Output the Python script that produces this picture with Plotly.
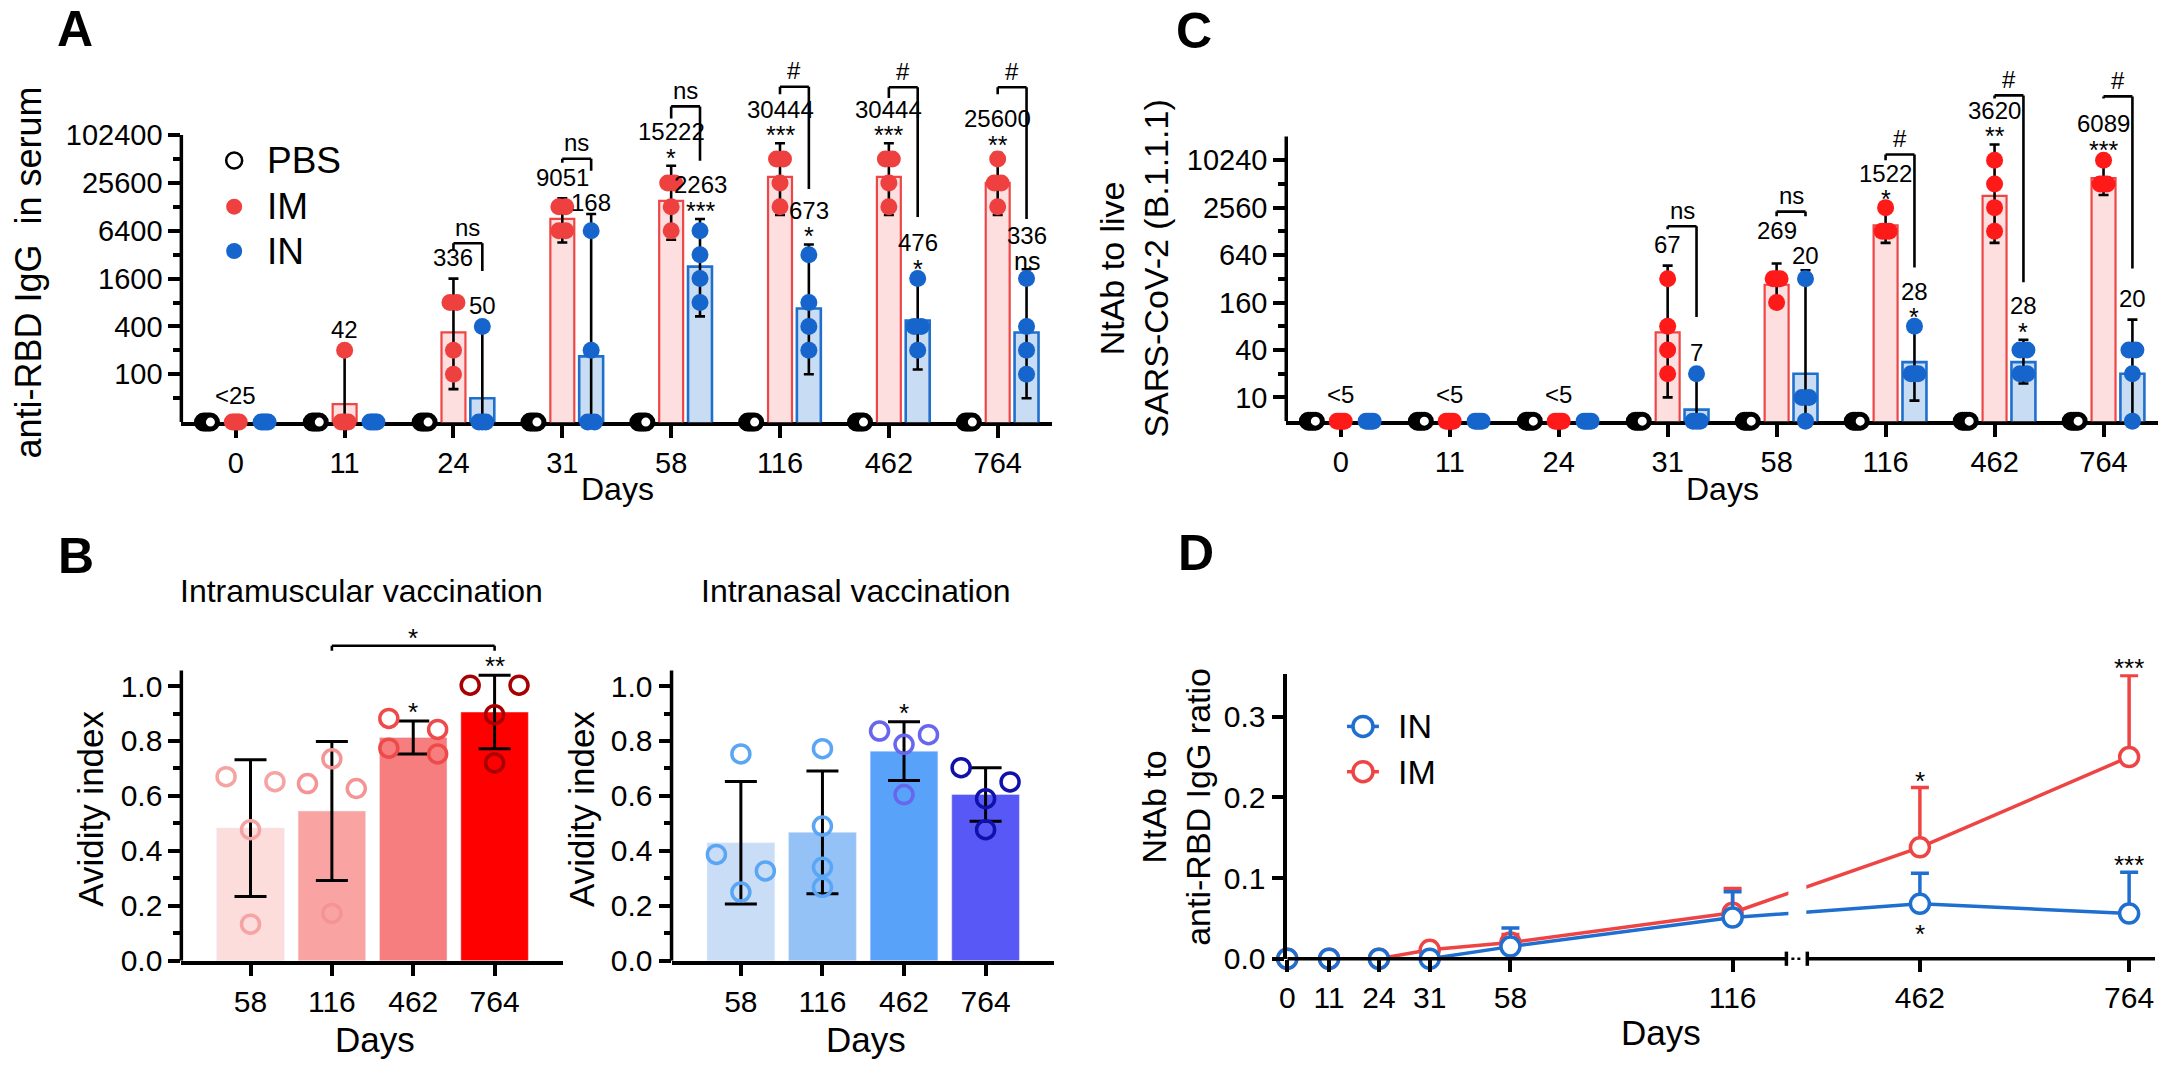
import numpy as np
import plotly.graph_objects as go

W, H = 2163, 1084
FONT = "Liberation Sans, Arial, sans-serif"
RED = "#EF4444"
BLUE = "#1E6FD0"

# ---------------- data ----------------
days = ["0", "11", "24", "31", "58", "116", "462", "764"]

# A: anti-RBD IgG titres, 4 mice per group (25 = detection limit)
a_pbs = [[25, 25, 25, 25] for _ in days]
a_im = [[25, 25, 25, 25], [200, 25, 25, 25], [800, 800, 200, 100], [12800, 12800, 6400, 6400],
        [25600, 25600, 12800, 6400], [51200, 51200, 25600, 12800], [51200, 51200, 25600, 12800],
        [51200, 25600, 25600, 12800]]
a_in = [[25, 25, 25, 25], [25, 25, 25, 25], [400, 25, 25, 25], [6400, 200, 25, 25],
        [6400, 3200, 1600, 800], [3200, 800, 400, 200], [1600, 400, 400, 200], [1600, 400, 200, 100]]
a_im_gmt = [None, 42, 336, 9051, 15222, 30444, 30444, 25600]
a_in_gmt = [None, None, 50, 168, 2263, 673, 476, 336]
a_im_lo = [None, 1, 65, 4550, 4930, 10100, 10100, 10100]
a_im_hi = [None, 200, 1600, 16400, 42100, 81000, 81000, 61000]
a_in_lo = [None, None, 1, 1, 536, 100, 115, 50]
a_in_hi = [None, None, 400, 10400, 9000, 4300, 1700, 2100]
a_im_text = ["<25", "42", "336", "9051", "15222", "30444", "30444", "25600"]
a_im_sig = ["", "", "", "", "*", "***", "***", "**"]
a_in_text = ["", "", "50", "168", "2263", "673", "476", "336"]
a_in_sig = ["", "", "", "", "***", "*", "*", "ns"]
a_cmp = [None, None, "ns", "ns", "ns", "#", "#", "#"]
# IM vs IN brackets: top, left end, right end
a_cmp_top = [None, None, 4450, 51500, 235000, 415000, 410000, 410000]
a_cmp_left = [None, None, 3730, 46000, 166000, 335000, 300000, 335000]
a_cmp_right = [None, None, 1990, 36500, 48600, 21400, 9550, 9000]

# C: NtAb titres to live SARS-CoV-2 (5 = detection limit)
c_pbs = [[5, 5, 5, 5] for _ in days]
c_im = [[5, 5, 5, 5], [5, 5, 5, 5], [5, 5, 5, 5], [320, 80, 40, 20], [320, 320, 320, 160],
        [2560, 1280, 1280, 1280], [10240, 5120, 2560, 1280], [10240, 5120, 5120, 5120]]
c_in = [[5, 5, 5, 5], [5, 5, 5, 5], [5, 5, 5, 5], [20, 5, 5, 5], [320, 10, 10, 5],
        [80, 20, 20, 20], [40, 40, 20, 20], [40, 40, 20, 5]]
c_im_gmt = [None, None, None, 67, 269, 1522, 3620, 6089]
c_in_gmt = [None, None, None, 7, 20, 28, 28, 20]
c_im_lo = [None, None, None, 10, 170, 915, 915, 3700]
c_im_hi = [None, None, None, 470, 500, 2600, 16200, 11000]
c_in_lo = [None, None, None, 1, 1, 9.1, 15, 1]
c_in_hi = [None, None, None, 20, 410, 82, 54, 97]
c_im_text = ["<5", "<5", "<5", "67", "269", "1522", "3620", "6089"]
c_im_sig = ["", "", "", "", "", "*", "**", "***"]
c_in_text = ["", "", "", "7", "20", "28", "28", "20"]
c_in_sig = ["", "", "", "", "", "*", "*", ""]
c_cmp = [None, None, None, "ns", "ns", "#", "#", "#"]
c_cmp_top = [None, None, None, 1485, 2280, 12100, 68000, 66000]
c_cmp_left = [None, None, None, 1360, 1990, 10250, 62000, 62000]
c_cmp_right = [None, None, None, 105, 1990, 445, 290, 433]

# B: avidity index
b_days = ["58", "116", "462", "764"]
b_im = [[0.652, 0.670, 0.477, 0.133], [0.645, 0.735, 0.627, 0.172],
        [0.842, 0.882, 0.753, 0.774], [1.003, 1.003, 0.896, 0.720]]
b_in = [[0.753, 0.387, 0.327, 0.250], [0.772, 0.490, 0.340, 0.267],
        [0.836, 0.823, 0.788, 0.605], [0.651, 0.703, 0.590, 0.477]]
b_im_sig = ["", "", "*", "**"]
b_in_sig = ["", "", "*", ""]

# D: NtAb / anti-RBD IgG ratio (mean, upper SD)
d_im = [0, 0, 0, 0.011, 0.020, 0.057, 0.138, 0.250]
d_im_sd = [0, 0, 0, 0, 0.010, 0.030, 0.074, 0.101]
d_in = [0, 0, 0, 0, 0.015, 0.051, 0.068, 0.056]
d_in_sd = [0, 0, 0, 0, 0.023, 0.032, 0.038, 0.051]
d_im_sig = ["", "", "", "", "", "", "*", "***"]
d_in_sig = ["", "", "", "", "", "", "*", "***"]

# segmented x scale used in panel D (axis units for each day, break between 501 and 522)
d_scale = [0, 42, 92, 143, 224, 447, 635, 845]

# label nudges (px) where the figure moves a value label off its usual place
label_shift = {("x", 3, "in"): 12, ("x2", 4, "im"): 33, ("x2", 4, "in"): 15}


# ---------------- helpers ----------------
def pxx(x):
    return x / W


def pyy(y):
    return 1 - y / H


OFF = 0.265  # spacing of PBS / IM / IN inside a day group

fig = go.Figure()


def text(t, x, y, xref, yref, size=24, yshift=0, xanchor="center", angle=0, bold=False):
    fig.add_annotation(text=("<b>%s</b>" % t) if bold else t, x=x, y=y, xref=xref, yref=yref,
                       showarrow=False, yshift=yshift, xanchor=xanchor, yanchor="middle",
                       textangle=angle, font=dict(family=FONT, size=size, color="black"))


def line(x0, y0, x1, y1, xref, yref, color="black", width=2.6, dash=None):
    fig.add_shape(type="line", x0=x0, y0=y0, x1=x1, y1=y1, xref=xref, yref=yref,
                  line=dict(color=color, width=width, dash=dash))


def dup_offsets(vals, span=0.064):
    # identical values are put side by side
    out = []
    for k, v in enumerate(vals):
        idx = [j for j, w in enumerate(vals) if w == v]
        n = len(idx)
        out.append(0.0 if n == 1 else -span / 2 + span * idx.index(k) / (n - 1))
    return out


def swarm(vals, gap=0.065, step=0.3):
    order = list(np.argsort(vals)[::-1])
    groups = []
    for idx in order:
        if groups and vals[groups[-1][-1]] - vals[idx] < gap:
            groups[-1].append(idx)
        else:
            groups.append([idx])
    offs = [0.0] * len(vals)
    patterns = {1: [0], 2: [-step, step], 3: [-step, step, 0], 4: [-step, step, -step, step]}
    for g in groups:
        for k, idx in enumerate(g):
            offs[idx] = patterns[len(g)][k]
    return offs


def titre_panel(xa, ya, pbs, im, inn, im_gmt, in_gmt, im_lo, im_hi, in_lo, in_hi, im_col):
    x = list(range(len(days)))
    fig.add_trace(go.Bar(x=x, y=im_gmt, width=0.22, xaxis=xa, yaxis=ya,
                         marker=dict(color="#FDDFDF", line=dict(color="#EE4646", width=2.2))))
    fig.add_trace(go.Bar(x=[i + OFF for i in x], y=in_gmt, width=0.22, xaxis=xa, yaxis=ya,
                         marker=dict(color="#C8DCF4", line=dict(color="#1F6FCC", width=2.6))))
    for shift, gmt, lo, hi in ((0, im_gmt, im_lo, im_hi), (OFF, in_gmt, in_lo, in_hi)):
        keep = [i for i in x if gmt[i] is not None]
        fig.add_trace(go.Scatter(
            x=[i + shift for i in keep], y=[gmt[i] for i in keep], mode="markers",
            marker=dict(size=1, color="rgba(0,0,0,0)"), xaxis=xa, yaxis=ya,
            error_y=dict(type="data", symmetric=False, array=[hi[i] - gmt[i] for i in keep],
                         arrayminus=[gmt[i] - lo[i] for i in keep], color="black",
                         thickness=2.6, width=5)))
    styles = ((-OFF, pbs, dict(color="white", size=14, line=dict(color="black", width=5))),
              (0, im, dict(color=im_col, size=17)),
              (OFF, inn, dict(color="#1565CC", size=17)))
    for shift, pts, style in styles:
        xs, ys = [], []
        for i, vals in enumerate(pts):
            for o, v in zip(dup_offsets(vals), vals):
                xs.append(i + shift + o)
                ys.append(v)
        fig.add_trace(go.Scatter(x=xs, y=ys, mode="markers", marker=style, cliponaxis=False,
                                 xaxis=xa, yaxis=ya))


def titre_labels(xa, ya, floor, im_hi, in_hi, im_text, im_sig, in_text, in_sig,
                 cmp, cmp_top, cmp_left, cmp_right):
    for i in range(len(days)):
        for grp, shift, hi, txt, sig in (("im", 0, im_hi, im_text, im_sig),
                                         ("in", OFF, in_hi, in_text, in_sig)):
            if not txt[i]:
                continue
            top = np.log10(hi[i] if hi[i] else floor)
            if sig[i]:
                text(sig[i], i + shift, top, xa, ya, size=25, yshift=8)
                text(txt[i], i + shift, top, xa, ya, size=24, yshift=34)
            else:
                dy = label_shift.get((xa, i, grp), 21 if hi[i] else 27)
                text(txt[i], i + shift, top, xa, ya, size=24, yshift=dy)
        if cmp[i]:
            line(i, cmp_left[i], i, cmp_top[i], xa, ya)
            line(i, cmp_top[i], i + OFF, cmp_top[i], xa, ya)
            line(i + OFF, cmp_top[i], i + OFF, cmp_right[i], xa, ya)
            text(cmp[i], i + OFF / 2, np.log10(cmp_top[i]), xa, ya, size=24, yshift=16)


# ---------------- panel A and C ----------------
titre_panel("x", "y", a_pbs, a_im, a_in, a_im_gmt, a_in_gmt, a_im_lo, a_im_hi,
            a_in_lo, a_in_hi, "#EF4040")
titre_labels("x", "y", 25, a_im_hi, a_in_hi, a_im_text, a_im_sig, a_in_text, a_in_sig,
             a_cmp, a_cmp_top, a_cmp_left, a_cmp_right)
titre_panel("x2", "y2", c_pbs, c_im, c_in, c_im_gmt, c_in_gmt, c_im_lo, c_im_hi,
            c_in_lo, c_in_hi, "#FF1A1A")
titre_labels("x2", "y2", 5, c_im_hi, c_in_hi, c_im_text, c_im_sig, c_in_text, c_in_sig,
             c_cmp, c_cmp_top, c_cmp_left, c_cmp_right)

# ---------------- panel B ----------------
im_bar = ["#FDDCDC", "#F9A3A3", "#F77E7E", "#FF0000"]
im_pt = ["#F5A3A3", "#F59494", "#EE4A4A", "#A80000"]
in_bar = ["#C9DDF6", "#94C1F6", "#58A2F9", "#5858F6"]
in_pt = ["#5AA6F4", "#5AA6F4", "#6666EE", "#1010AA"]

for xa, ya, pts, bar_c, pt_c, sig in (("x3", "y3", b_im, im_bar, im_pt, b_im_sig),
                                       ("x4", "y4", b_in, in_bar, in_pt, b_in_sig)):
    means = [float(np.mean(p)) for p in pts]
    sds = [float(np.std(p, ddof=1)) for p in pts]
    fig.add_trace(go.Bar(x=list(range(4)), y=means, width=0.83, marker=dict(color=bar_c),
                         xaxis=xa, yaxis=ya))
    fig.add_trace(go.Scatter(x=list(range(4)), y=means, mode="markers",
                             marker=dict(size=1, color="rgba(0,0,0,0)"), xaxis=xa, yaxis=ya,
                             error_y=dict(type="data", array=sds, color="black", thickness=3,
                                          width=16)))
    xs, ys, cs = [], [], []
    for i, p in enumerate(pts):
        for o, v in zip(swarm(p), p):
            xs.append(i + o)
            ys.append(v)
            cs.append(pt_c[i])
    fig.add_trace(go.Scatter(x=xs, y=ys, mode="markers", cliponaxis=False, xaxis=xa, yaxis=ya,
                             marker=dict(symbol="circle-open", size=18, color=cs,
                                         line=dict(width=3.5))))
    for i in range(4):
        if sig[i]:
            text(sig[i], i, means[i] + sds[i], xa, ya, size=26, yshift=9)

# IM 116 vs 764 bracket
line(1, 1.129, 1, 1.147, "x3", "y3")
line(1, 1.147, 3, 1.147, "x3", "y3")
line(3, 1.147, 3, 1.129, "x3", "y3")
text("*", 2, 1.147, "x3", "y3", size=26, yshift=8)

# ---------------- panel D ----------------
for vals, sd, col in ((d_im, d_im_sd, RED), (d_in, d_in_sd, BLUE)):
    fig.add_trace(go.Scatter(
        x=d_scale, y=vals, mode="lines+markers", cliponaxis=False, xaxis="x5", yaxis="y5",
        line=dict(color=col, width=3.5),
        marker=dict(symbol="circle", size=19, color="white", line=dict(color=col, width=3.5)),
        error_y=dict(type="data", symmetric=False, array=sd, arrayminus=[0] * len(sd),
                     color=col, thickness=3.5, width=9)))
for i in range(len(days)):
    if d_im_sig[i]:
        text(d_im_sig[i], d_scale[i], d_im[i] + d_im_sd[i], "x5", "y5", size=26, yshift=7)
    if d_in_sig[i]:
        if i == 6:
            text(d_in_sig[i], d_scale[i], d_in[i], "x5", "y5", size=26, yshift=-30)
        else:
            text(d_in_sig[i], d_scale[i], d_in[i] + d_in_sd[i], "x5", "y5", size=26, yshift=7)

# axis break in D
fig.add_shape(type="rect", x0=503, x1=521, y0=0.03, y1=1, xref="x5", yref="y5 domain",
              fillcolor="white", line=dict(width=0), layer="above")
line(0, 0, 501, 0, "x5", "y5 domain", width=3.5)
line(522, 0, 871, 0, "x5", "y5 domain", width=3.5)
line(501, -0.025, 501, 0.025, "x5", "y5 domain", width=3.5)
line(522, -0.025, 522, 0.025, "x5", "y5 domain", width=3.5)
line(506, 0, 517, 0, "x5", "y5 domain", width=2.5, dash="dot")

# y axis lines drawn as shapes (plots extend upward for brackets)
line(0, 25, 0, 102400, "x domain", "y", width=3.5)
line(0, 5, 0, 20480, "x2 domain", "y2", width=3.5)
line(0, 0, 0, 1.057, "x3 domain", "y3", width=3.5)
line(0, 0, 0, 1.057, "x4 domain", "y4", width=3.5)

# ---------------- legends ----------------
for yy, fill, edge, name in ((163, "white", "black", "PBS"), (210, "#EF4040", "#EF4040", "IM"),
                             (255, "#1565CC", "#1565CC", "IN")):
    fig.add_shape(type="circle", xref="paper", yref="paper", xsizemode="pixel",
                  ysizemode="pixel", xanchor=pxx(227), yanchor=pyy(yy), x0=-8, x1=8, y0=-8,
                  y1=8, fillcolor=fill, line=dict(color=edge, width=2.5 if name == "PBS" else 0))
    text(name, pxx(258), pyy(yy), "paper", "paper", size=37, xanchor="left")

for yy, col, name in ((738, BLUE, "IN"), (784, RED, "IM")):
    line(pxx(1344), pyy(yy), pxx(1376), pyy(yy), "paper", "paper", color=col, width=3.5)
    fig.add_shape(type="circle", xref="paper", yref="paper", xsizemode="pixel",
                  ysizemode="pixel", xanchor=pxx(1360), yanchor=pyy(yy), x0=-10, x1=10,
                  y0=-10, y1=10, fillcolor="white", line=dict(color=col, width=3.5))
    text(name, pxx(1393), pyy(yy), "paper", "paper", size=34, xanchor="left")

# ---------------- titles ----------------
for t, x, y in (("A", 67, 29), ("C", 1190, 31), ("B", 68, 565), ("D", 1192, 562)):
    text(t, pxx(x), pyy(y), "paper", "paper", size=50, bold=True)

text("anti-RBD IgG  in serum", pxx(21), pyy(277), "paper", "paper", size=36, angle=-90)
text("NtAb to live<br>SARS-CoV-2 (B.1.1.1)", pxx(1130), pyy(273), "paper", "paper",
     size=34, angle=-90)
text("Days", pxx(612), pyy(497), "paper", "paper", size=32)
text("Days", pxx(1721), pyy(497), "paper", "paper", size=32)
text("Intramuscular vaccination", pxx(355), pyy(600), "paper", "paper", size=32)
text("Intranasal vaccination", pxx(851), pyy(600), "paper", "paper", size=32)
text("Avidity index", pxx(82), pyy(822), "paper", "paper", size=35, angle=-90)
text("Avidity index", pxx(575), pyy(822), "paper", "paper", size=35, angle=-90)
text("Days", pxx(368), pyy(1056), "paper", "paper", size=35)
text("Days", pxx(861), pyy(1056), "paper", "paper", size=35)
text("NtAb to<br>anti-RBD IgG ratio", pxx(1172), pyy(820), "paper", "paper", size=34,
     angle=-90)
text("Days", pxx(1659), pyy(1049), "paper", "paper", size=35)

# ---------------- axes ----------------
tick = dict(showgrid=False, zeroline=False, ticks="outside", tickwidth=3.5, ticklen=12,
            tickcolor="black", linecolor="black", linewidth=3.5,
            tickfont=dict(family=FONT, size=30, color="black"))
tick_ac = dict(tick, tickfont=dict(family=FONT, size=29, color="black"))
minor = dict(ticks="outside", ticklen=7, tickwidth=3.5, tickcolor="black")
ppd = 48.6 / np.log10(4)  # pixels per decade in A and C
EPS = 0.002  # keeps detection-limit points inside the range

fig.update_layout(
    width=W, height=H, margin=dict(l=0, r=0, t=0, b=0), autosize=False,
    paper_bgcolor="white", plot_bgcolor="rgba(0,0,0,0)", showlegend=False, barmode="overlay",
    hovermode=False,
    xaxis=dict(tick_ac, domain=[pxx(174), pxx(1048)], range=[-0.5, 7.5],
               tickvals=list(range(8)), ticktext=days, showline=True, anchor="y",
               layer="below traces"),
    yaxis=dict(tick_ac, type="log", domain=[pyy(429), pyy(60)],
               range=[np.log10(25) - EPS, np.log10(25) - EPS + (429 - 60) / ppd],
               tickvals=[100, 400, 1600, 6400, 25600, 102400],
               ticktext=["100", "400", "1600", "6400", "25600", "102400"],
               minor=dict(minor, tickvals=[50, 200, 800, 3200, 12800, 51200]),
               showline=False, anchor="x"),
    xaxis2=dict(tick_ac, domain=[pxx(1283), pxx(2158)], range=[-0.5, 7.5],
                tickvals=list(range(8)), ticktext=days, showline=True, anchor="y2",
                layer="below traces"),
    yaxis2=dict(tick_ac, type="log", domain=[pyy(428), pyy(60)],
                range=[np.log10(5) - EPS, np.log10(5) - EPS + (428 - 60) / (48.2 / np.log10(4))],
                tickvals=[10, 40, 160, 640, 2560, 10240],
                ticktext=["10", "40", "160", "640", "2560", "10240"],
                minor=dict(minor, tickvals=[20, 80, 320, 1280, 5120]),
                showline=False, anchor="x2"),
    xaxis3=dict(tick, domain=[pxx(174), pxx(557)], range=[-0.85, 3.84],
                tickvals=list(range(4)), ticktext=b_days, showline=True, anchor="y3"),
    yaxis3=dict(tick, domain=[pyy(976), pyy(640)], range=[0, (976 - 640) / 279],
                tickvals=[0, 0.2, 0.4, 0.6, 0.8, 1.0], tickformat=".1f",
                minor=dict(minor, tickvals=[0.1, 0.3, 0.5, 0.7, 0.9]),
                showline=False, anchor="x3"),
    xaxis4=dict(tick, domain=[pxx(666), pxx(1050)], range=[-0.85, 3.84],
                tickvals=list(range(4)), ticktext=b_days, showline=True, anchor="y4"),
    yaxis4=dict(tick, domain=[pyy(976), pyy(640)], range=[0, (976 - 640) / 279],
                tickvals=[0, 0.2, 0.4, 0.6, 0.8, 1.0], tickformat=".1f",
                minor=dict(minor, tickvals=[0.1, 0.3, 0.5, 0.7, 0.9]),
                showline=False, anchor="x4"),
    xaxis5=dict(tick, domain=[pxx(1284), pxx(2155)], range=[0, 871], tickvals=d_scale,
                ticktext=days, showline=False, anchor="y5"),
    yaxis5=dict(tick, domain=[pyy(974), pyy(685)], range=[0, 289 / 820],
                tickvals=[0, 0.1, 0.2, 0.3], tickformat=".1f", showline=True, anchor="x5"),
)

# page body margin off so the figure sits at the window's corner
fig.write_html("out.html", config={"displayModeBar": False},
               post_script="document.body.style.margin = '0';")
